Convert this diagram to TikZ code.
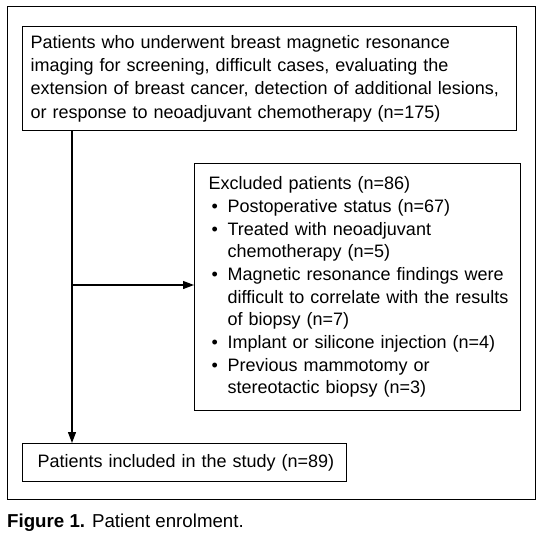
\documentclass[tikz,border=0pt]{standalone}
\usepackage{fontspec}
\setmainfont{Liberation Sans}
\usepackage{tikz}
\usetikzlibrary{arrows.meta}
\newcommand{\bulletln}[1]{\makebox[19pt][l]{\hspace{3pt}\textbullet}\mbox{#1}}
\newcommand{\contln}[1]{\hspace*{19pt}\mbox{#1}}

\begin{document}
\begin{tikzpicture}[x=1pt, y=-1pt]
    \tikzstyle{bx} = [draw=black, rectangle, line width=1.2pt, anchor=north west, align=left, inner ysep=0pt];
    \tikzstyle{txt} = [font=\fontsize{18}{23.2}\selectfont];
    \tikzstyle{lst} = [font=\fontsize{18}{22.7}\selectfont];
    \useasboundingbox (0,0) rectangle (542,541);
    \draw[line width=1pt] (7,6) rectangle (535,499);

    \node (src) at (22,26) [bx, txt, text width=478, inner xsep=8, minimum height=104]
      {Patients who underwent breast magnetic resonance\\
       imaging for screening, difficult cases, evaluating the\\
       extension of breast cancer, detection of additional lesions,\\
       or response to neoadjuvant chemotherapy (n=175)};
    \node (excl) at (194,163) [bx, lst, text width=298, inner xsep=14, minimum height=247]
      {Excluded patients (n=86)\\
       \bulletln{Postoperative status (n=67)}\\
       \bulletln{Treated with neoadjuvant}\\
       \contln{chemotherapy (n=5)}\\
       \bulletln{Magnetic resonance findings were}\\
       \contln{difficult to correlate with the results}\\
       \contln{of biopsy (n=7)}\\
       \bulletln{Implant or silicone injection (n=4)}\\
       \bulletln{Previous mammotomy or}\\
       \contln{stereotactic biopsy (n=3)}};
    \node (incl) at (22,443) [bx, txt, text width=294, inner xsep=15, minimum height=38]
      {\mbox{Patients included in the study (n=89)}};
    \node (cap) at (7,527) [anchor=base west, inner sep=0pt, font=\fontsize{18.7}{22}\selectfont]
      {\textbf{Figure 1.} Patient enrolment.};
    \coordinate (split) at (72,285);

    \begin{scope}[line width=1.2pt]
      \draw[-{Triangle[length=11pt,width=8pt]}] (split |- src.south) -- (split |- incl.north);
      \draw[-{Triangle[length=11pt,width=8pt]}] (split) -- (split -| excl.west);
    \end{scope}
\end{tikzpicture}
\end{document}
